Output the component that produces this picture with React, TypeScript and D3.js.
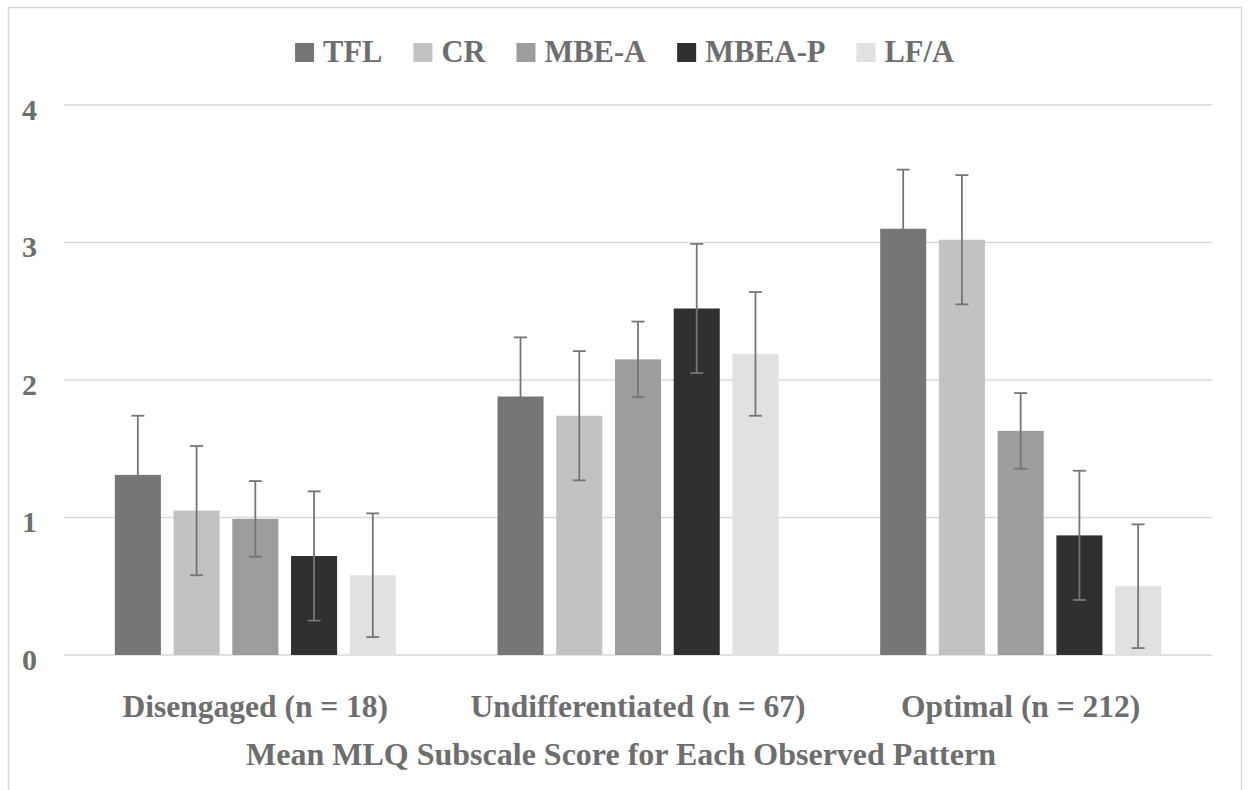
import * as d3 from "d3";
import { useEffect, useRef } from "react";

const groups = ["Disengaged (n = 18)", "Undifferentiated (n = 67)", "Optimal (n = 212)"];
const series = ["TFL", "CR", "MBE-A", "MBEA-P", "LF/A"];
const colors = ["#767676", "#c2c2c2", "#9d9d9d", "#303030", "#e1e1e1"];

// mean per series, one value per group
const tfl = [1.31, 1.88, 3.1];
const cr = [1.05, 1.74, 3.02];
const mbeA = [0.99, 2.15, 1.63];
const mbeaP = [0.72, 2.52, 0.87];
const lfa = [0.58, 2.19, 0.5];

// error bar half length
const tflErr = [0.43, 0.43, 0.43];
const crErr = [0.47, 0.47, 0.47];
const mbeAErr = [0.275, 0.275, 0.275];
const mbeaPErr = [0.47, 0.47, 0.47];
const lfaErr = [0.45, 0.45, 0.45];

const yTicks = [0, 1, 2, 3, 4];
const xTitle = "Mean MLQ Subscale Score for Each Observed Pattern";

const means = [tfl, cr, mbeA, mbeaP, lfa];
const errs = [tflErr, crErr, mbeAErr, mbeaPErr, lfaErr];

const FONT = "'Liberation Serif', 'Times New Roman', serif";
const TEXT = "#6e6e6e";

const App = () => {
  const ref = useRef(null);

  useEffect(() => {
    const svg = d3.select(ref.current);
    svg.selectAll("*").remove();

    const width = 1248;
    const height = 790;
    const left = 64;
    const right = 1212;

    svg.attr("width", width).attr("height", height);

    // рамка
    svg.append("rect")
      .attr("x", 8.5)
      .attr("y", 7.5)
      .attr("width", 1233)
      .attr("height", 820)
      .attr("fill", "none")
      .attr("stroke", "#d9d9d9")
      .attr("stroke-width", 1.5);

    const y = d3.scaleLinear().domain([0, 4]).range([655, 105]);
    const x0 = d3.scaleBand().domain(groups).range([left, right]);
    const x1 = d3.scaleBand().domain(series).range([-140.5, 140.5]).paddingInner(0.216);

    // сетка
    svg.append("g")
      .selectAll("line")
      .data(yTicks)
      .enter()
      .append("line")
      .attr("x1", left)
      .attr("x2", right)
      .attr("y1", d => y(d))
      .attr("y2", d => y(d))
      .attr("stroke", "#d9d9d9")
      .attr("stroke-width", 1.6);

    svg.append("g")
      .selectAll("text")
      .data(yTicks)
      .enter()
      .append("text")
      .attr("x", 37)
      .attr("y", d => y(d) + 14.6)
      .attr("text-anchor", "end")
      .style("font-family", FONT)
      .style("font-weight", "bold")
      .style("font-size", "30px")
      .attr("fill", TEXT)
      .text(d => d);

    // столбцы
    const rows = [];
    series.forEach((s, si) => {
      groups.forEach((g, gi) => {
        rows.push({ s, si, g, v: means[si][gi], e: errs[si][gi] });
      });
    });

    const cx = d => x0(d.g) + x0.bandwidth() / 2 + x1(d.s);

    svg.append("g")
      .selectAll("rect")
      .data(rows)
      .enter()
      .append("rect")
      .attr("x", d => cx(d))
      .attr("y", d => y(d.v))
      .attr("width", x1.bandwidth())
      .attr("height", d => y(0) - y(d.v))
      .attr("fill", d => colors[d.si]);

    // погрешности
    const eg = svg.append("g")
      .attr("stroke", "#767676")
      .attr("stroke-width", 1.8)
      .attr("fill", "none");
    const mid = d => cx(d) + x1.bandwidth() / 2;
    const cap = 6.5;
    rows.forEach(d => {
      eg.append("line")
        .attr("x1", mid(d)).attr("x2", mid(d))
        .attr("y1", y(d.v + d.e)).attr("y2", y(d.v - d.e));
      [d.v + d.e, d.v - d.e].forEach(t => {
        eg.append("line")
          .attr("x1", mid(d) - cap).attr("x2", mid(d) + cap)
          .attr("y1", y(t)).attr("y2", y(t));
      });
    });

    // подписи категорий
    svg.append("g")
      .selectAll("text")
      .data(groups)
      .enter()
      .append("text")
      .attr("x", d => x0(d) + x0.bandwidth() / 2)
      .attr("y", 716.7)
      .attr("text-anchor", "middle")
      .style("font-family", FONT)
      .style("font-weight", "bold")
      .style("font-size", "31.5px")
      .attr("fill", TEXT)
      .text(d => d);

    svg.append("text")
      .attr("x", 621)
      .attr("y", 765)
      .attr("text-anchor", "middle")
      .style("font-family", FONT)
      .style("font-weight", "bold")
      .style("font-size", "32px")
      .attr("fill", TEXT)
      .text(xTitle);

    // легенда
    const lg = svg.append("g");
    const items = series.map((s, i) => {
      const g = lg.append("g");
      g.append("rect")
        .attr("width", 19)
        .attr("height", 19)
        .attr("y", 43)
        .attr("fill", colors[i]);
      const t = g.append("text")
        .attr("x", 28)
        .attr("y", 61.7)
        .style("font-family", FONT)
        .style("font-weight", "bold")
        .style("font-size", "30.5px")
        .attr("fill", TEXT)
        .text(s);
      return { g, w: 28 + t.node().getComputedTextLength() };
    });
    const gap = 31;
    const total = d3.sum(items, d => d.w) + gap * (items.length - 1);
    let pos = 624.5 - total / 2;
    items.forEach(it => {
      it.g.attr("transform", `translate(${pos},0)`);
      pos += it.w + gap;
    });
  }, []);

  return (
    <svg
      ref={ref}
      width="1248"
      height="790"
      style={{ position: "absolute", left: 0, top: 0, background: "#fff" }}
    ></svg>
  );
};

export default App;
